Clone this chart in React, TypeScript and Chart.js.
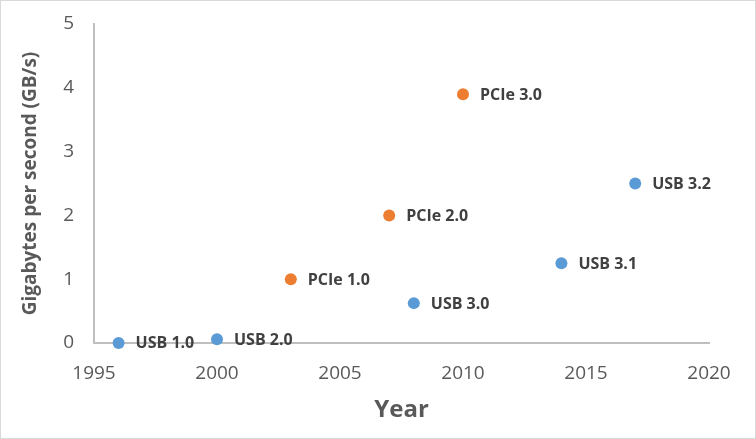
import React, { useEffect, useRef } from "react";
import { Chart, registerables } from "chart.js";

Chart.register(...registerables);

const usbLabels = ["USB 1.0", "USB 2.0", "USB 3.0", "USB 3.1", "USB 3.2"];
const usbYears = [1996, 2000, 2008, 2014, 2017];
const usbSpeeds = [0.0015, 0.06, 0.625, 1.25, 2.5];

const pcieLabels = ["PCIe 1.0", "PCIe 2.0", "PCIe 3.0"];
const pcieYears = [2003, 2007, 2010];
const pcieSpeeds = [1.0, 2.0, 3.9];

const xTickValues = [1995, 2000, 2005, 2010, 2015, 2020];
const yTickValues = [0, 1, 2, 3, 4, 5];

const FONT = "'Open Sans', 'Noto Sans', sans-serif";

const bgPlugin = {
  id: "bgBorder",
  beforeDraw(chart: any) {
    const { ctx, width, height } = chart;
    ctx.save();
    ctx.fillStyle = "#ffffff";
    ctx.fillRect(0, 0, width, height);
    ctx.strokeStyle = "#d9d9d9";
    ctx.lineWidth = 1;
    ctx.strokeRect(0.5, 0.5, width - 1, height - 1);
    ctx.restore();
  },
};

const labelPlugin = {
  id: "pointLabels",
  afterDatasetsDraw(chart: any) {
    const { ctx } = chart;
    ctx.save();
    ctx.font = `bold 16px ${FONT}`;
    ctx.fillStyle = "#404040";
    ctx.textAlign = "left";
    ctx.textBaseline = "middle";
    chart.data.datasets.forEach((ds: any, di: number) => {
      const meta = chart.getDatasetMeta(di);
      meta.data.forEach((el: any, i: number) => {
        const lbl = ds.pointLabels[i];
        ctx.fillText(lbl, el.x + 17, el.y + 1);
      });
    });
    ctx.restore();
  },
};

export default function App() {
  const ref = useRef<HTMLCanvasElement | null>(null);

  useEffect(() => {
    document.body.style.margin = "0";
    const canvas = ref.current;
    if (!canvas) return;
    const chart = new Chart(canvas, {
      type: "scatter",
      data: {
        datasets: [
          {
            label: "USB",
            data: usbYears.map((x, i) => ({ x, y: usbSpeeds[i] })),
            backgroundColor: "#5b9bd5",
            borderWidth: 0,
            pointRadius: 6,
            pointBorderWidth: 0,
            clip: false,
            pointLabels: usbLabels,
          } as any,
          {
            label: "PCIe",
            data: pcieYears.map((x, i) => ({ x, y: pcieSpeeds[i] })),
            backgroundColor: "#ed7d31",
            borderWidth: 0,
            pointRadius: 6,
            pointBorderWidth: 0,
            clip: false,
            pointLabels: pcieLabels,
          } as any,
        ],
      },
      options: {
        animation: false,
        responsive: false,
        devicePixelRatio: 1,
        layout: { padding: { top: 24, right: 47, left: 0, bottom: 0 } },
        plugins: {
          legend: { display: false },
          tooltip: { enabled: false },
        },
        scales: {
          x: {
            type: "linear",
            min: 1995,
            max: 2020,
            afterFit: (s: any) => {
              s.height = 96;
              s.paddingLeft = 0;
              s.paddingRight = 0;
            },
            afterBuildTicks: (s: any) => {
              s.ticks = xTickValues.map((v) => ({ value: v }));
            },
            grid: { display: false, drawTicks: false },
            border: { display: true, color: "#bfbfbf", width: 2 },
            ticks: {
              padding: 19,
              color: "#595959",
              font: { family: FONT, size: 19 },
              maxRotation: 0,
              callback: (v: any) => String(v),
            },
            title: {
              display: true,
              text: "Year",
              color: "#595959",
              font: { family: FONT, size: 24, weight: "bold" },
              padding: { top: 0, bottom: 14 },
            },
          },
          y: {
            type: "linear",
            min: 0,
            max: 5,
            afterFit: (s: any) => {
              s.width = 94;
              s.paddingTop = 0;
              s.paddingBottom = 0;
            },
            afterBuildTicks: (s: any) => {
              s.ticks = yTickValues.map((v) => ({ value: v }));
            },
            grid: { display: false, drawTicks: false },
            border: { display: true, color: "#bfbfbf", width: 2 },
            ticks: {
              padding: 20,
              color: "#595959",
              font: { family: FONT, size: 19 },
              callback: (v: any) => String(v),
            },
            title: {
              display: true,
              text: "Gigabytes per second (GB/s)",
              color: "#595959",
              font: { family: FONT, size: 19, weight: "bold" },
              padding: { top: 19, bottom: 0 },
            },
          },
        },
      },
      plugins: [bgPlugin, labelPlugin],
    } as any);
    return () => chart.destroy();
  }, []);

  return (
    <div style={{ position: "absolute", left: 0, top: 0, width: 756, height: 439 }}>
      <canvas ref={ref} width={756} height={439} style={{ display: "block" }} />
    </div>
  );
}
